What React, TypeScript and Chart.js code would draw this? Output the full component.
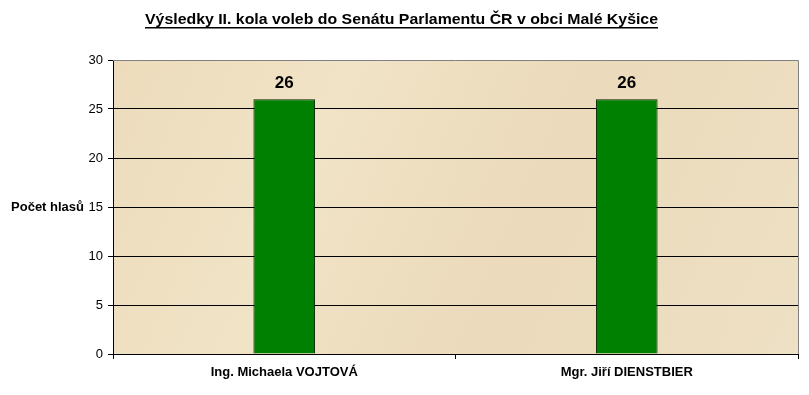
import React, { useEffect, useRef } from "react";
import { Chart, registerables } from "chart.js";

Chart.register(...registerables);

const TITLE = "Výsledky II. kola voleb do Senátu Parlamentu ČR v obci Malé Kyšice";
const Y_LABEL = "Počet hlasů";
const CATEGORIES = ["Ing. Michaela VOJTOVÁ", "Mgr. Jiří DIENSTBIER"];
const VOTES = [26, 26];
const Y_MIN = 0;
const Y_MAX = 30;
const Y_STEP = 5;

const FONT = "'Liberation Sans', Arial, sans-serif";

const decorPlugin = {
  id: "decor",
  beforeDraw(chart: any) {
    const { ctx, chartArea } = chart;
    ctx.save();
    ctx.fillStyle = "#ffffff";
    ctx.fillRect(0, 0, chart.width, chart.height);
    const g = ctx.createLinearGradient(chartArea.left, chartArea.top, chartArea.right, chartArea.bottom);
    g.addColorStop(0, "#ecdcbc");
    g.addColorStop(0.3, "#f1e3c6");
    g.addColorStop(0.6, "#ebdabb");
    g.addColorStop(1, "#eee0c4");
    ctx.fillStyle = g;
    ctx.fillRect(chartArea.left, chartArea.top, chartArea.right - chartArea.left, chartArea.bottom - chartArea.top);
    ctx.restore();
  },
  afterDraw(chart: any) {
    const { ctx, chartArea } = chart;
    ctx.save();
    // border top/right
    ctx.strokeStyle = "#808080";
    ctx.lineWidth = 1;
    ctx.beginPath();
    ctx.moveTo(chartArea.left, chartArea.top + 0.5);
    ctx.lineTo(chartArea.right + 0.5, chartArea.top + 0.5);
    ctx.lineTo(chartArea.right + 0.5, chartArea.bottom);
    ctx.stroke();
    // title (stretched horizontally to the reference width)
    ctx.fillStyle = "#000";
    ctx.font = `bold 15px ${FONT}`;
    ctx.textAlign = "center";
    ctx.textBaseline = "alphabetic";
    const tx = 401.5;
    const ty = 24;
    const targetW = 513;
    const w = ctx.measureText(TITLE).width;
    const sx = targetW / w;
    ctx.save();
    ctx.translate(tx, ty);
    ctx.scale(sx, 1);
    ctx.fillText(TITLE, 0, 0);
    ctx.restore();
    ctx.fillRect(tx - targetW / 2, ty + 3, targetW, 1.5);
    // y label
    ctx.font = `bold 13px ${FONT}`;
    ctx.textAlign = "right";
    ctx.textBaseline = "middle";
    const yScale = chart.scales.y;
    ctx.fillText(Y_LABEL, 84, yScale.getPixelForValue(15));
    // data labels
    ctx.font = `bold 17px ${FONT}`;
    ctx.textAlign = "center";
    ctx.textBaseline = "alphabetic";
    const meta = chart.getDatasetMeta(0);
    meta.data.forEach((bar: any, i: number) => {
      ctx.fillText(String(VOTES[i]), bar.x, bar.y - 11);
    });
    ctx.restore();
  },
};

export default function App() {
  const ref = useRef<HTMLCanvasElement>(null);
  useEffect(() => {
    document.body.style.margin = "0";
    const chart = new Chart(ref.current!, {
      type: "bar",
      data: {
        labels: CATEGORIES,
        datasets: [
          {
            data: VOTES,
            backgroundColor: "#008000",
            borderColor: "#002200",
            borderWidth: 1,
            barPercentage: 0.18,
            categoryPercentage: 1,
          },
        ],
      },
      options: {
        animation: false,
        responsive: false,
        layout: { padding: { left: 0, top: 60, right: 11, bottom: 0 } },
        plugins: { legend: { display: false }, title: { display: false }, tooltip: { enabled: false } },
        scales: {
          x: {
            afterFit(scale: any) {
              scale.height = 41;
            },
            grid: {
              offset: true,
              drawOnChartArea: false,
              drawTicks: true,
              tickLength: 5,
              color: "#000",
            },
            border: { color: "#000" },
            ticks: {
              color: "#000",
              padding: 6,
              font: { family: FONT, size: 13, weight: "bold" },
              maxRotation: 0,
            },
          },
          y: {
            min: Y_MIN,
            max: Y_MAX,
            afterFit(scale: any) {
              scale.width = 113;
            },
            grid: {
              color: (c: any) => (c.tick && c.tick.value === Y_MAX ? "rgba(0,0,0,0)" : "#000"),
              tickColor: "#000",
              tickLength: 5,
            },
            border: { color: "#000" },
            ticks: {
              stepSize: Y_STEP,
              color: "#000",
              padding: 5,
              font: { family: FONT, size: 13 },
            },
          },
        },
      },
      plugins: [decorPlugin],
    });
    return () => chart.destroy();
  }, []);
  return <canvas ref={ref} width={809} height={395} style={{ display: "block" }} />;
}
